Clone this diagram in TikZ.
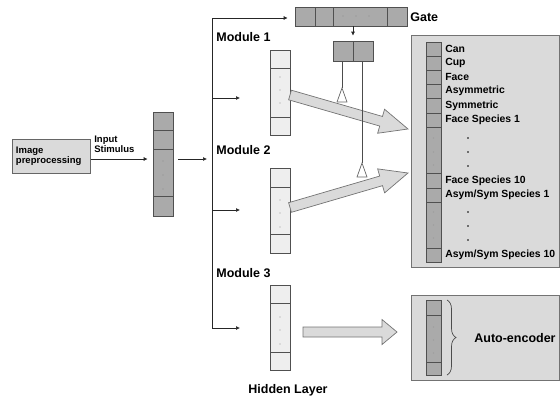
\documentclass[tikz,border=0pt]{standalone}
\usepackage{fontspec}
\setmainfont{Liberation Sans}
\usetikzlibrary{arrows.meta,positioning,calc,decorations.pathreplacing}
\definecolor{cellgray}{RGB}{170,170,170}
\definecolor{celllight}{RGB}{238,238,238}
\definecolor{panelgray}{RGB}{218,218,218}
\definecolor{edgegray}{RGB}{80,80,80}
% wide outlined arrow from #1 to #2, head length #3
\newcommand{\fatarrow}[3]{%
  \draw[fatar] let \p1=($(#2)-(#1)$), \n1={atan2(\y1,\x1)}, \n2={veclen(\x1,\y1)} in
    [shift={(#1)}, rotate=\n1]
    (0pt,-5pt) -- (\n2-#3,-5pt) -- (\n2-#3,-12.5pt) -- (\n2,0pt)
    -- (\n2-#3,12.5pt) -- (\n2-#3,5pt) -- (0pt,5pt) -- cycle;}

\begin{document}
\begin{tikzpicture}[
  x=1pt, y=-1pt,
  line width=0.7pt,
  font=\bfseries,
  lbl/.style={font=\bfseries\fontsize{12.5}{14}\selectfont, inner sep=0pt},
  small/.style={font=\bfseries\fontsize{9.5}{10.5}\selectfont, inner sep=0pt, align=left},
  olbl/.style={font=\bfseries\fontsize{10.4}{11}\selectfont, inner sep=0pt, anchor=west},
  colD/.style={draw=edgegray, fill=cellgray, minimum width=20pt, inner sep=0pt},
  colL/.style={draw=edgegray, fill=celllight, minimum width=20pt, inner sep=0pt},
  panel/.style={draw=black!55, fill=panelgray, inner sep=0pt},
  ar/.style={-{Latex[length=4pt,width=4pt]}, draw=black!85},
  fatar/.style={draw=black!55, fill=panelgray, line join=miter},
  tri/.style={draw=black!60, fill=white},
  dv/.style={draw=edgegray}
]
  \useasboundingbox (0,0) rectangle (560,397);

  % input side
  \node[draw=black!60, fill=panelgray, line width=1pt, minimum width=78pt, minimum height=34pt,
        text width=70pt, align=left, inner sep=4pt, font=\bfseries\fontsize{9.5}{10.5}\selectfont]
        (pre) at (51,156) {Image\\preprocessing};
  \node[small, anchor=south west] (stim) at (94,153) {Input\\Stimulus};

  \node[colD, minimum height=104pt] (inp) at (163,164) {};
  \foreach \y in {130,149,196} \draw[dv] (153,\y) -- (173,\y);
  \foreach \y in {161,175,189} \fill[black!45] (163,\y) circle (0.7pt);

  \coordinate (bj) at (212,159);
  \coordinate (btop) at (212,18);
  \coordinate (bbot) at (212,328);
  \draw[black!85] (btop) -- (bbot);
  \draw[ar, shorten >=5pt] (pre.east |- bj) -- (inp.west |- bj);
  \draw[ar, shorten <=5pt, shorten >=5pt] (inp.east |- bj) -- (bj);

  % gate
  \node[colD, minimum width=112pt, minimum height=19pt] (gate) at (351,16.5) {};
  \foreach \x in {315,333,387} \draw[dv] (\x,7) -- (\x,26);
  \foreach \x in {343,356,369} \fill[black!45] (\x,16) circle (0.7pt);
  \node[lbl, anchor=west] (gatelbl) at (410,17) {Gate};
  \draw[ar, shorten >=7pt] (btop) -- (gate.west |- btop);

  \node[colD, minimum width=40pt, minimum height=20pt] (gs) at (353,51) {};
  \draw[dv] (353,41) -- (353,61);
  \draw[ar, shorten >=5pt] (gs.north |- gate.south) -- (gs.north);

  % modules
  \node[lbl, anchor=west] (mod1) at (216,37) {Module 1};
  \node[colL, minimum height=85pt] (m1) at (280,92.5) {};
  \foreach \y in {68,117} \draw[dv] (270,\y) -- (290,\y);
  \foreach \y in {77,90,103} \fill[black!40] (280,\y) circle (0.6pt);
  \coordinate (e1) at (240,98);
  \draw[ar] (e1 -| bj) -- (e1);

  \node[lbl, anchor=west] (mod2) at (216,150) {Module 2};
  \node[colL, minimum height=85pt] (m2) at (280,210.5) {};
  \foreach \y in {187,234} \draw[dv] (270,\y) -- (290,\y);
  \foreach \y in {200,213,227} \fill[black!40] (280,\y) circle (0.6pt);
  \coordinate (e2) at (240,210);
  \draw[ar] (e2 -| bj) -- (e2);

  \node[lbl, anchor=west] (mod3) at (216,273) {Module 3};
  \node[colL, minimum height=85pt] (m3) at (280,327.5) {};
  \foreach \y in {303,352} \draw[dv] (270,\y) -- (290,\y);
  \foreach \y in {317,330,344} \fill[black!40] (280,\y) circle (0.6pt);
  \coordinate (e3) at (240,328);
  \draw[ar] (bbot) -- (e3);

  \node[lbl, font=\bfseries\fontsize{12.5}{14}\selectfont] (hid) at (288,390) {Hidden Layer};

  % output layer
  \node[panel, minimum width=148pt, minimum height=232pt] (outp) at (485,151) {};
  \foreach \a/\b in {42/56,56/70,70/84,84/98,98/113,113/127,127/173,173/188,188/202,202/248,248/262}
    \draw[dv, fill=cellgray] (426,\a) rectangle (441,\b);
  \foreach \y/\t [count=\i] in {49/Can,63/Cup,77/Face,91/Asymmetric,105.5/Symmetric,
      120/{Face Species 1},180.5/{Face Species 10},195/{Asym/Sym Species 1},255/{Asym/Sym Species 10}}
    \node[olbl] (cls\i) at (445,\y) {\t};
  \foreach \y in {138,152,165,212,225,238} \fill[black!40] (433.5,\y) circle (0.6pt);
  \foreach \y in {138,152,166,212,226,240} \fill (468,\y) circle (0.9pt);

  % auto-encoder
  \node[panel, minimum width=148pt, minimum height=85pt] (auto) at (485,337.5) {};
  \draw[dv, fill=cellgray] (426,300) rectangle (441,375);
  \foreach \y in {315,362} \draw[dv] (426,\y) -- (441,\y);
  \foreach \y in {327,340,353} \fill[black!40] (433.5,\y) circle (0.6pt);
  \draw[black!70, decorate, decoration={brace, amplitude=9pt}] (447,300) -- (447,375);
  \node[lbl, anchor=west] (ae) at (474,338) {Auto-encoder};

  % wide arrows
  \coordinate (f1s) at (290,95);
  \coordinate (f1e) at (408,129);
  \coordinate (f2s) at (290,207.5);
  \coordinate (f2e) at (408,173);
  \coordinate (f3s) at (303,332);
  \coordinate (f3e) at (397,332);
  \fatarrow{f1s}{f1e}{28pt}
  \fatarrow{f2s}{f2e}{28pt}
  \fatarrow{f3s}{f3e}{15pt}

  % gating lines
  \coordinate (t1) at (342,88);
  \coordinate (t2) at (362,163);
  \draw[black!70] (gs.south -| t1) -- (t1);
  \draw[black!70] (gs.south -| t2) -- (t2);
  \draw[tri] (t1) -- ++(-5,14) -- ++(10,0) -- cycle;
  \draw[tri] (t2) -- ++(-5,14) -- ++(10,0) -- cycle;
\end{tikzpicture}
\end{document}
